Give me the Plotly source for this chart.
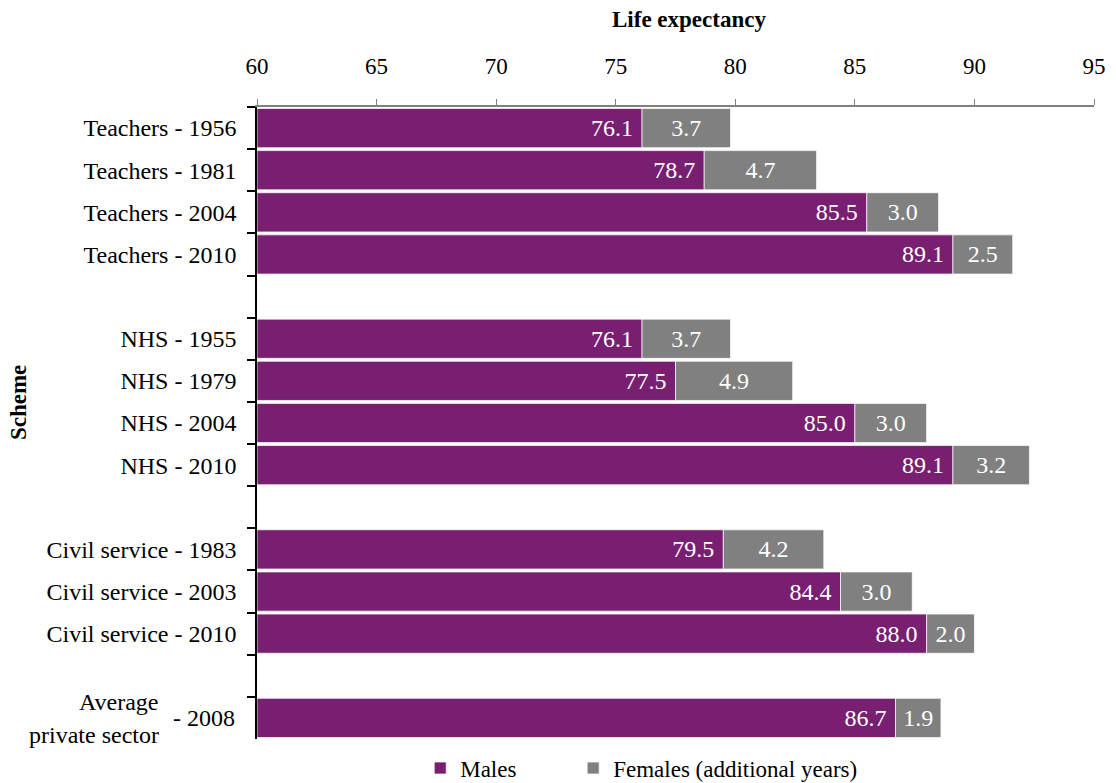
import plotly.graph_objects as go

categories = ["Teachers - 1956", "Teachers - 1981", "Teachers - 2004", "Teachers - 2010", " ",
              "NHS - 1955", "NHS - 1979", "NHS - 2004", "NHS - 2010", "  ",
              "Civil service - 1983", "Civil service - 2003", "Civil service - 2010", "   ",
              "Average private sector - 2008"]
males = [76.1, 78.7, 85.5, 89.1, None,
         76.1, 77.5, 85.0, 89.1, None,
         79.5, 84.4, 88.0, None,
         86.7]
females_extra = [3.7, 4.7, 3.0, 2.5, None,
                 3.7, 4.9, 3.0, 3.2, None,
                 4.2, 3.0, 2.0, None,
                 1.9]
x_ticks = [60, 65, 70, 75, 80, 85, 90, 95]

PURPLE = "#781F72"
GREY = "#808080"
FONT = "Liberation Serif"
NB = "\u00a0"

# the two-line "Average private sector - 2008" label is drawn with annotations
y_labels = [c if not c.startswith("Average") else "    " for c in categories]

fig = go.Figure()
fig.add_trace(go.Bar(
    y=y_labels, x=[m - 60 if m is not None else None for m in males], base=60,
    orientation="h", name="Males" + NB * 9,
    marker=dict(color=PURPLE, line=dict(color="rgba(255,255,255,0.7)", width=1)),
    text=[f"{m:.1f}" + NB if m is not None else "" for m in males],
    textposition="inside", insidetextanchor="end",
    textfont=dict(color="white", size=24, family=FONT),
    hoverinfo="skip",
))
fig.add_trace(go.Bar(
    y=y_labels, x=females_extra,
    base=males,
    orientation="h", name="Females (additional years)",
    marker=dict(color=GREY, line=dict(color="rgba(255,255,255,0.7)", width=1)),
    text=[f"{f:.1f}" if f is not None else "" for f in females_extra],
    textposition="inside", insidetextanchor="middle",
    textfont=dict(color="white", size=24, family=FONT),
    hoverinfo="skip",
))

n = len(y_labels)
fig.update_layout(
    width=1116, height=783,
    margin=dict(l=257, r=22, t=107, b=44, autoexpand=False),
    barmode="overlay", bargap=0.07,
    plot_bgcolor="white", paper_bgcolor="white",
    font=dict(family=FONT, size=23, color="black"),
    showlegend=True,
    legend=dict(orientation="h", x=0.195, xanchor="left", y=-0.046, yanchor="middle",
                font=dict(size=23, family=FONT), itemclick=False, bgcolor="rgba(0,0,0,0)"),
    xaxis=dict(side="top", range=[60, 95], tickvals=x_ticks, ticks="outside", ticklen=6,
               tickcolor="#808080", showline=True, linecolor="#808080", linewidth=1.5,
               showgrid=False, zeroline=False, tickfont=dict(size=23), ticklabelstandoff=16,
               automargin=False),
    yaxis=dict(categoryorder="array", categoryarray=y_labels, range=[n - 0.5, -0.5],
               ticks="outside", tickson="boundaries", ticklen=8, tickwidth=1.5, tickcolor="black",
               showline=True, linecolor="black", linewidth=1.5, showgrid=False,
               tickfont=dict(size=24), ticklabelstandoff=14, automargin=False),
)

# axis titles
fig.add_annotation(x=0.516, xref="paper", y=1.1377, yref="paper", text="<b>Life expectancy</b>",
                   showarrow=False, font=dict(size=23), xanchor="center", yanchor="middle")
fig.add_annotation(x=-0.2855, xref="paper", y=0.5316, yref="paper", text="<b>Scheme</b>",
                   showarrow=False, font=dict(size=23), textangle=-90,
                   xanchor="center", yanchor="middle")

avg = y_labels[-1]
fig.add_annotation(x=0, xref="paper", y=avg, yref="y", xanchor="right", xshift=-96, yshift=16,
                   text="Average", showarrow=False, font=dict(size=24))
fig.add_annotation(x=0, xref="paper", y=avg, yref="y", xanchor="right", xshift=-96, yshift=-17,
                   text="private sector", showarrow=False, font=dict(size=24))
fig.add_annotation(x=0, xref="paper", y=avg, yref="y", xanchor="right", xshift=-20,
                   text="- 2008", showarrow=False, font=dict(size=24))

fig.write_html("out.html")
